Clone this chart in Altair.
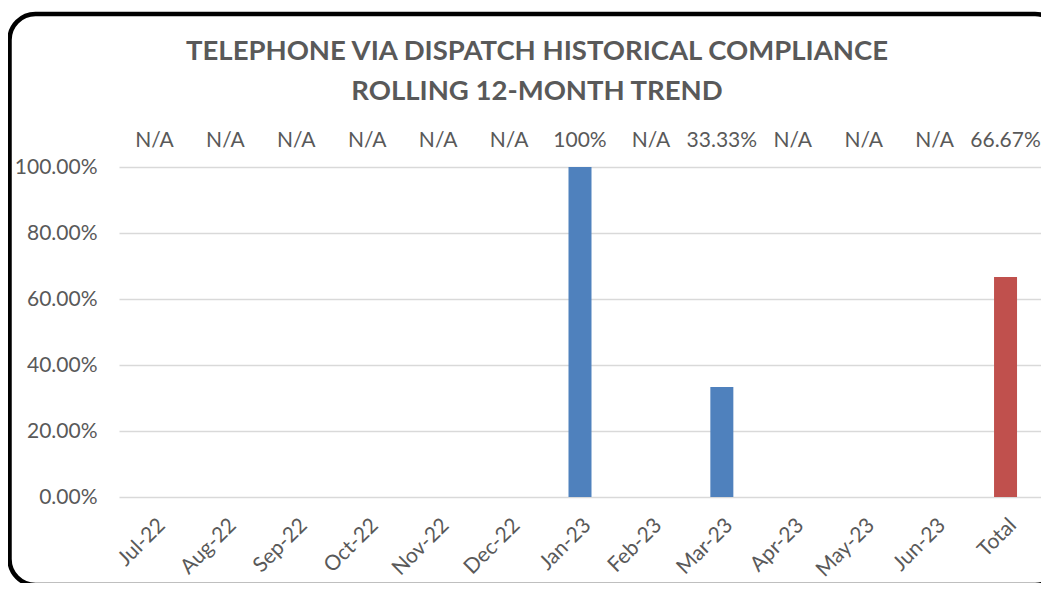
import altair as alt
import pandas as pd

categories = ["Jul-22", "Aug-22", "Sep-22", "Oct-22", "Nov-22", "Dec-22",
              "Jan-23", "Feb-23", "Mar-23", "Apr-23", "May-23", "Jun-23", "Total"]
values = [None, None, None, None, None, None, 1.0, None, 0.3333, None, None, None, 0.6667]
top_labels = ["N/A", "N/A", "N/A", "N/A", "N/A", "N/A", "100%", "N/A", "33.33%",
              "N/A", "N/A", "N/A", "66.67%"]
series = ["Month"] * 12 + ["Total"]
title_lines = ["TELEPHONE VIA DISPATCH HISTORICAL COMPLIANCE", "ROLLING 12-MONTH TREND"]
title_offsets = [-115, -75]

FONT = "Lato"
GREY = "#595959"

df = pd.DataFrame({"cat": categories, "val": values, "lab": top_labels, "series": series})
tdf = pd.DataFrame({"t": title_lines, "yo": title_offsets})

x_enc = alt.X("cat:N", sort=categories, title=None,
              scale=alt.Scale(paddingInner=0, paddingOuter=0),
              axis=alt.Axis(labelAngle=-45, labelFontSize=21, labelColor=GREY, labelFont=FONT,
                            domain=False, ticks=False, labelPadding=17, grid=False))

bars = alt.Chart(df).mark_bar(size=23).encode(
    x=x_enc,
    y=alt.Y("val:Q", title=None,
            scale=alt.Scale(domain=[0, 1]),
            axis=alt.Axis(values=[0, 0.2, 0.4, 0.6, 0.8, 1.0], format=".2%",
                          labelFontSize=21, labelColor=GREY, labelFont=FONT,
                          domain=False, ticks=False, labelPadding=22,
                          gridColor="#D9D9D9", gridWidth=1.5)),
    color=alt.Color("series:N", scale=alt.Scale(domain=["Month", "Total"],
                                                range=["#4F81BD", "#C0504D"]), legend=None),
)

labels = alt.Chart(df).mark_text(fontSize=21, font=FONT, color=GREY, baseline="middle").encode(
    x=alt.X("cat:N", sort=categories),
    y=alt.value(-26),
    text="lab:N",
)

title = alt.Chart(tdf).mark_text(fontSize=27.5, font=FONT, fontWeight="bold", color=GREY,
                                 baseline="middle", align="center").encode(
    x=alt.value(418),
    y=alt.Y("yo:Q", scale=None),
    text="t:N",
)

border = alt.Chart(pd.DataFrame({"a": [0]})).mark_rect(
    fill=None, stroke="black", strokeWidth=4.5, cornerRadius=26, clip=False
).encode(x=alt.value(-109.5), x2=alt.value(942), y=alt.value(-153), y2=alt.value(418))

chart = alt.layer(bars, labels, title, border).properties(
    width=922, height=330,
    autosize=alt.AutoSizeParams(type="none"),
    padding={"left": 111, "top": 159, "right": 0, "bottom": 86},
).configure_view(stroke=None)

chart.save("out.html", embed_options={"renderer": "svg", "actions": False})
